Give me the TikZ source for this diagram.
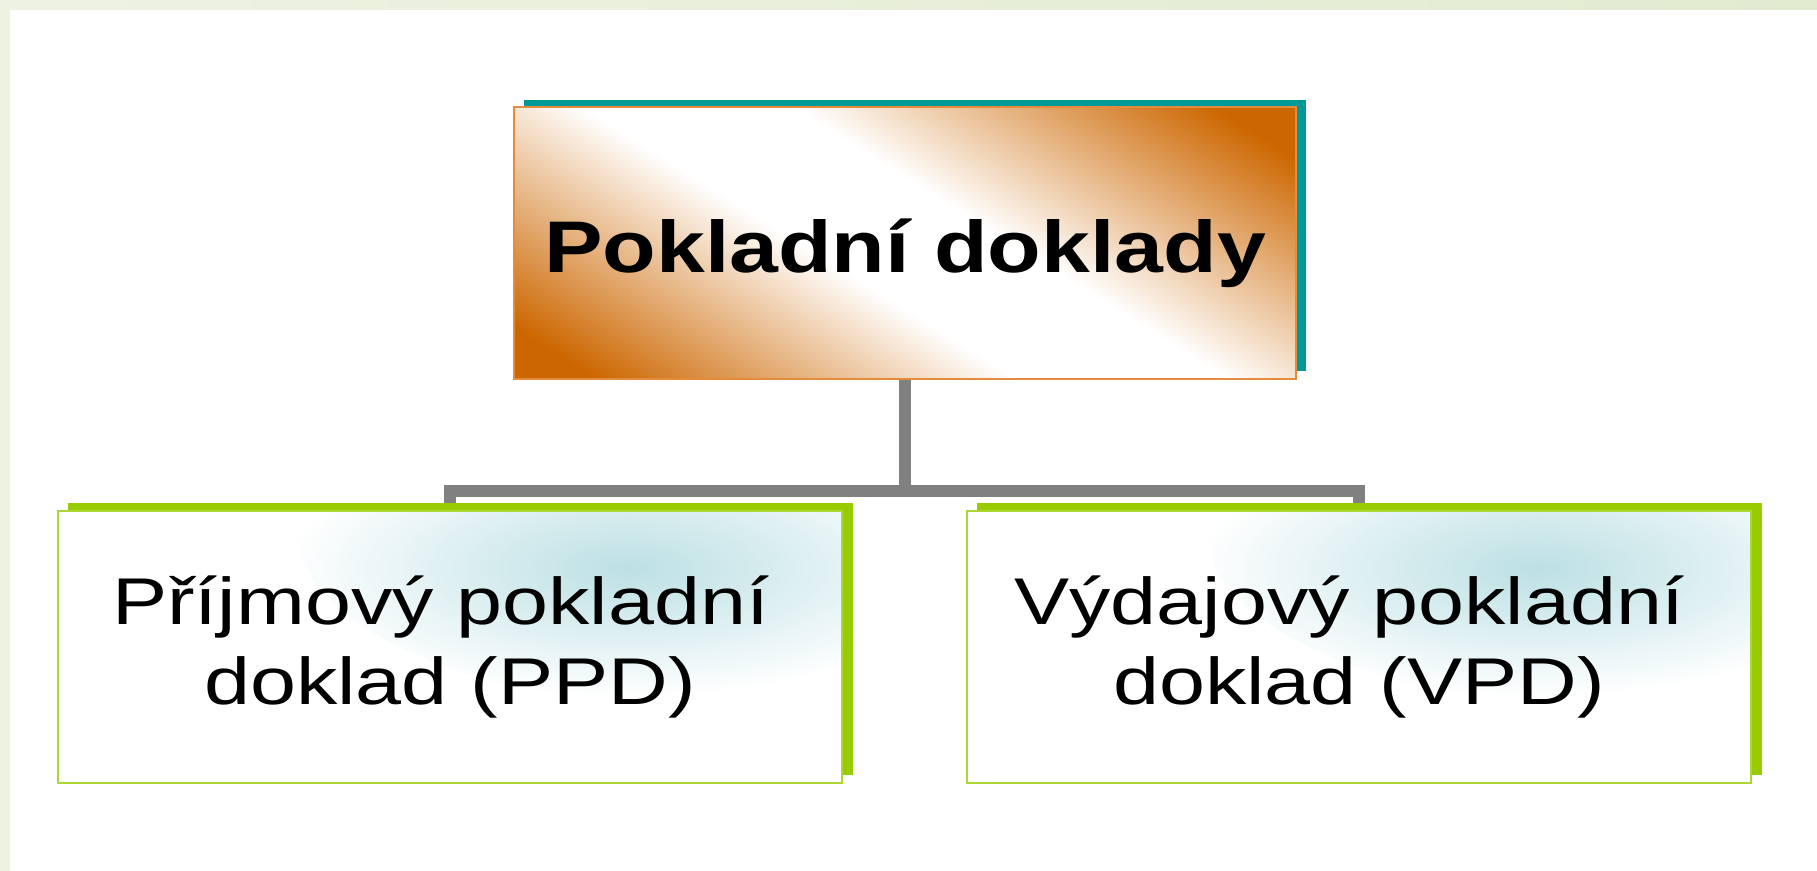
\documentclass[tikz,border=0pt]{standalone}
\usepackage{fontspec}
\setmainfont{Liberation Sans}
\newfontfamily\headfont{Liberation Sans}[FakeStretch=1.2]
\newfontfamily\boxfont{Liberation Sans}[FakeStretch=1.25]
\usetikzlibrary{shadows}

\definecolor{bandgreen}{RGB}{238,242,226}
\definecolor{bandlight}{RGB}{248,250,242}
\definecolor{bandright}{RGB}{226,235,208}
\definecolor{orangedark}{RGB}{204,102,0}
\definecolor{orangeedge}{RGB}{228,140,60}
\definecolor{tealshadow}{RGB}{0,153,153}
\definecolor{limeshadow}{RGB}{153,204,0}
\definecolor{limeedge}{RGB}{172,214,50}
\definecolor{paleteal}{RGB}{188,224,228}
\definecolor{linkgray}{RGB}{128,128,128}

\pgfdeclarehorizontalshading{headshade}{100bp}{color(0bp)=(orangedark); color(20bp)=(orangedark); color(44bp)=(white); color(56bp)=(white); color(80bp)=(orangedark); color(100bp)=(orangedark)}
\pgfdeclareradialshading{glowshade}{\pgfpoint{0bp}{0bp}}{color(0bp)=(paleteal); color(7bp)=(paleteal!55!white); color(15bp)=(white); color(50bp)=(white)}

\pgfdeclarelayer{back}
\pgfsetlayers{back,main}

\begin{document}
\begin{tikzpicture}[
  x=0.01cm,
  y=-0.01cm,
  every node/.style={font=\boxfont, text=black, inner sep=0pt},
  headbox/.style={draw=orangeedge, line width=0.6pt, shading=headshade, shading angle=58,
    minimum width=7.81cm, minimum height=2.71cm,
    font=\headfont\bfseries\fontsize{20.8pt}{24pt}\selectfont,
    text height=16.7pt, text depth=0pt,
    general shadow={shadow xshift=0.1cm, shadow yshift=0.075cm, fill=tealshadow}},
  kindbox/.style={draw=limeedge, line width=0.45pt, fill=white,
    minimum width=7.84cm, minimum height=2.72cm, align=center,
    font=\boxfont\fontsize{18.8pt}{22.6pt}\selectfont,
    general shadow={shadow xshift=0.105cm, shadow yshift=0.08cm, fill=limeshadow},
    path picture={\shade[shading=glowshade]
      ([xshift=-0.94cm, yshift=-0.22cm]path picture bounding box.north east)
      ellipse [x radius=4.5cm, y radius=1.8cm];}},
  link/.style={draw=linkgray, line width=3.4pt, line join=miter}
]
  \useasboundingbox (0,0) rectangle (1817,871);

  \node[headbox] (head) at (905,243) {Pokladní doklady};
  \node[kindbox] (ppd) at (450,647) {Příjmový pokladní\kern.28em\\doklad (PPD)};
  \node[kindbox] (vpd) at (1359,647) {Výdajový pokladní\kern.28em\\doklad (VPD)};

  \begin{pgfonlayer}{back}
    \fill[bandgreen] (0,0) rectangle (1817,871);
    \shade[left color=bandgreen, middle color=bandlight, right color=bandright] (0,0) rectangle (1817,10);
    \fill[white] (10,10) rectangle (1817,871);
    \coordinate (split) at (905,491);
    \draw[link] (head.south) -- (split);
    \draw[link] (ppd.north) |- (split) -| (vpd.north);
  \end{pgfonlayer}
\end{tikzpicture}
\end{document}
